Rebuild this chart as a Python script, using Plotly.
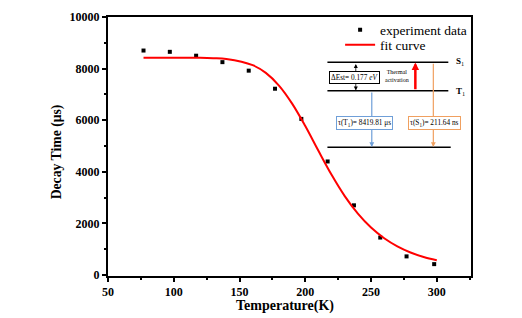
import plotly.graph_objects as go

# ---- data ----
temp_exp = [77, 97, 117, 137, 157, 177, 197, 217, 237, 257, 277, 298]
tau_exp = [8700, 8650, 8500, 8250, 7920, 7220, 6050, 4400, 2700, 1450, 720, 420]

temp_fit = [77, 100, 120, 130, 140, 160, 170, 180, 190, 200, 210, 220, 230, 240, 250, 260, 270, 280, 290, 300]
tau_fit = [8420, 8420, 8418, 8404, 8373, 8133, 7833, 7341, 6642, 5771, 4813, 3883, 3058, 2378, 1838, 1424, 1110, 873, 694, 570]

x_ticks = [50, 100, 150, 200, 250, 300]
y_ticks = [0, 2000, 4000, 6000, 8000, 10000]

FONT = "Liberation Serif"

FIG_W, FIG_H = 522, 318
L, R, T, B = 107.7, 471.0, 17.0, 276.0
W, H = R - L, B - T


def px(x):
    return (x - L) / W


def py(y):
    return (B - y) / H


fig = go.Figure()
fig.add_trace(go.Scatter(
    x=temp_exp, y=tau_exp, mode="markers", name="experiment data",
    marker=dict(symbol="square", size=4, color="black"), legend="legend"))
fig.add_trace(go.Scatter(
    x=temp_fit, y=tau_fit, mode="lines", name="fit curve", line_shape="spline",
    line=dict(color="#ff0000", width=2), legend="legend2"))

axis_common = dict(
    showline=True, linecolor="black", linewidth=2, mirror=True,
    ticks="outside", ticklen=4, tickwidth=1.5, tickcolor="black",
    showgrid=False, zeroline=False, tickformat="d",
    tickfont=dict(family=FONT, size=12, color="black", weight="bold"),
)

fig.update_xaxes(range=[50, 326], tickvals=x_ticks,
                 minor=dict(dtick=25, ticks="outside", ticklen=2, tickcolor="black"),
                 **axis_common)
fig.update_yaxes(range=[-40, 10000], tickvals=y_ticks,
                 minor=dict(dtick=1000, ticks="outside", ticklen=2, tickcolor="black"),
                 **axis_common)

shapes = []
for (x0, x1, y) in [(327.3, 448.3, 62.3), (327.3, 448.3, 90.7), (327.3, 450.7, 147.3)]:
    shapes.append(dict(type="line", xref="paper", yref="paper",
                       x0=px(x0), x1=px(x1), y0=py(y), y1=py(y),
                       line=dict(color="black", width=1.5)))

blue = "#6f9fd8"
orange = "#f0a060"
ann = []


def arrow(xh, yh, xt, yt, color, width, size=1.0, head=2, side="end"):
    ann.append(dict(xref="paper", yref="paper", x=px(xh), y=py(yh),
                    ax=xt - xh, ay=yt - yh, axref="pixel", ayref="pixel",
                    text="", showarrow=True, arrowhead=head, arrowsize=size,
                    arrowwidth=width, arrowcolor=color, arrowside=side,
                    startarrowhead=head, startarrowsize=size))


arrow(415.3, 62.5, 415.3, 90.7, "#ff0000", 2.5, size=0.6)
arrow(371.7, 147, 371.7, 91, blue, 1.2, size=0.8)
arrow(433.3, 147, 433.3, 62.3, orange, 1.2, size=0.8)
arrow(355.7, 90.5, 355.7, 62.5, "black", 0.8, size=1.0, side="end+start")


def text(x, y, s, size, border=None, xanchor="center"):
    d = dict(xref="paper", yref="paper", x=px(x), y=py(y), text=s,
             showarrow=False, xanchor=xanchor, yanchor="middle",
             font=dict(family=FONT, size=size, color="black"))
    if border:
        d.update(bordercolor=border, borderwidth=1, borderpad=1, bgcolor="white")
    ann.append(d)


text(354, 77, "ΔEst= 0.177 <i>eV</i>", 7.3, border="black")
text(397, 75.5, "Thermal<br>activation", 6)
text(364.5, 122.8, "τ(T<sub>1</sub>)= 8419.81 μs", 7.3, border=blue)
text(434, 123, "τ(S<sub>1</sub>)= 211.64 ns", 7.3, border=orange)
text(454, 62, "<b>S</b><sub>1</sub>", 9, xanchor="left")
text(454, 91, "<b>T</b><sub>1</sub>", 9, xanchor="left")

# axis titles
ann.append(dict(xref="paper", yref="paper", x=px(57), y=py(152), text="Decay Time (μs)",
                textangle=-90, showarrow=False, xanchor="center", yanchor="middle",
                font=dict(family=FONT, size=13.7, color="black", weight="bold")))
ann.append(dict(xref="paper", yref="paper", x=px(285), y=py(306), text="Temperature(K)",
                showarrow=False, xanchor="center", yanchor="middle",
                font=dict(family=FONT, size=14, color="black", weight="bold")))

leg_common = dict(bgcolor="rgba(0,0,0,0)", borderwidth=0, xanchor="left", yanchor="middle",
                  font=dict(family=FONT, size=13.5, color="black"), itemwidth=30)

fig.update_layout(
    width=FIG_W, height=FIG_H,
    margin=dict(l=L, r=FIG_W - R, t=T, b=FIG_H - B, autoexpand=False),
    paper_bgcolor="white", plot_bgcolor="white",
    showlegend=True,
    legend=dict(x=px(340), y=py(30), **leg_common),
    legend2=dict(x=px(340), y=py(45), **leg_common),
    shapes=shapes, annotations=ann,
)

fig.write_html("out.html", config={"displayModeBar": False},
               post_script="document.body.style.margin='0px';")
